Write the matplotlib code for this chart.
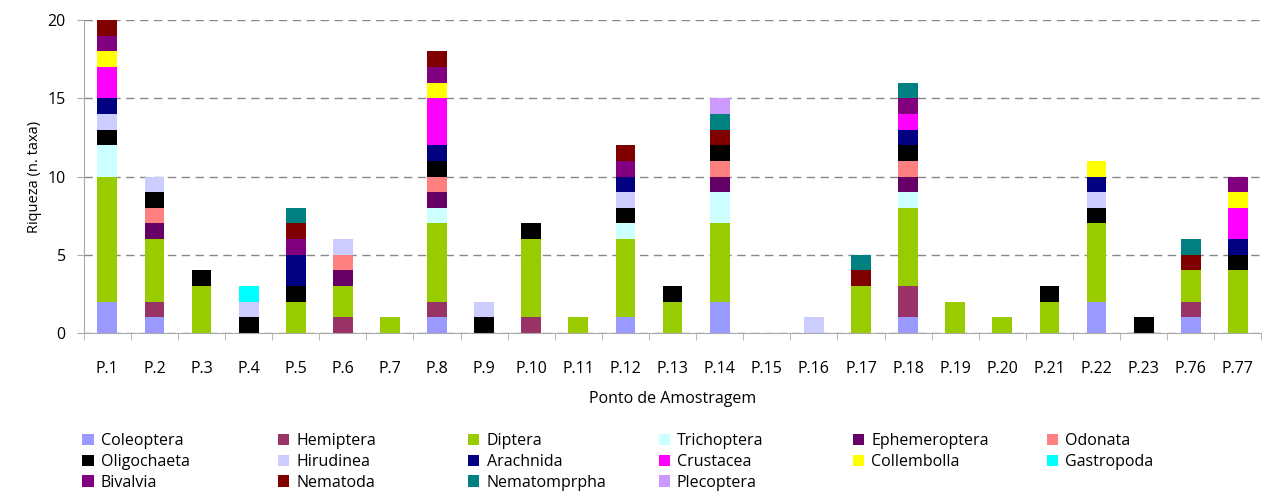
import matplotlib.pyplot as plt
import numpy as np

plt.rcParams['font.family'] = ['Open Sans', 'DejaVu Sans']

pontos = ["P.1", "P.2", "P.3", "P.4", "P.5", "P.6", "P.7", "P.8", "P.9", "P.10",
          "P.11", "P.12", "P.13", "P.14", "P.15", "P.16", "P.17", "P.18", "P.19",
          "P.20", "P.21", "P.22", "P.23", "P.76", "P.77"]

taxa = ["Coleoptera", "Hemiptera", "Diptera", "Trichoptera", "Ephemeroptera", "Odonata",
        "Oligochaeta", "Hirudinea", "Arachnida", "Crustacea", "Collembolla", "Gastropoda",
        "Bivalvia", "Nematoda", "Nematomprpha", "Plecoptera"]

cores = ["#9999FF", "#993366", "#99CC00", "#CCFFFF", "#660066", "#FF8080",
         "#000000", "#CCCCFF", "#000080", "#FF00FF", "#FFFF00", "#00FFFF",
         "#800080", "#800000", "#008080", "#CC99FF"]

#                 P1 P2 P3 P4 P5 P6 P7 P8 P9 P10 P11 P12 P13 P14 P15 P16 P17 P18 P19 P20 P21 P22 P23 P76 P77
coleoptera    = [2, 1, 0, 0, 0, 0, 0, 1, 0, 0, 0, 1, 0, 2, 0, 0, 0, 1, 0, 0, 0, 2, 0, 1, 0]
hemiptera     = [0, 1, 0, 0, 0, 1, 0, 1, 0, 1, 0, 0, 0, 0, 0, 0, 0, 2, 0, 0, 0, 0, 0, 1, 0]
diptera       = [8, 4, 3, 0, 2, 2, 1, 5, 0, 5, 1, 5, 2, 5, 0, 0, 3, 5, 2, 1, 2, 5, 0, 2, 4]
trichoptera   = [2, 0, 0, 0, 0, 0, 0, 1, 0, 0, 0, 1, 0, 2, 0, 0, 0, 1, 0, 0, 0, 0, 0, 0, 0]
ephemeroptera = [0, 1, 0, 0, 0, 1, 0, 1, 0, 0, 0, 0, 0, 1, 0, 0, 0, 1, 0, 0, 0, 0, 0, 0, 0]
odonata       = [0, 1, 0, 0, 0, 1, 0, 1, 0, 0, 0, 0, 0, 1, 0, 0, 0, 1, 0, 0, 0, 0, 0, 0, 0]
oligochaeta   = [1, 1, 1, 1, 1, 0, 0, 1, 1, 1, 0, 1, 1, 1, 0, 0, 0, 1, 0, 0, 1, 1, 1, 0, 1]
hirudinea     = [1, 1, 0, 1, 0, 1, 0, 0, 1, 0, 0, 1, 0, 0, 0, 1, 0, 0, 0, 0, 0, 1, 0, 0, 0]
arachnida     = [1, 0, 0, 0, 2, 0, 0, 1, 0, 0, 0, 1, 0, 0, 0, 0, 0, 1, 0, 0, 0, 1, 0, 0, 1]
crustacea     = [2, 0, 0, 0, 0, 0, 0, 3, 0, 0, 0, 0, 0, 0, 0, 0, 0, 1, 0, 0, 0, 0, 0, 0, 2]
collembolla   = [1, 0, 0, 0, 0, 0, 0, 1, 0, 0, 0, 0, 0, 0, 0, 0, 0, 0, 0, 0, 0, 1, 0, 0, 1]
gastropoda    = [0, 0, 0, 1, 0, 0, 0, 0, 0, 0, 0, 0, 0, 0, 0, 0, 0, 0, 0, 0, 0, 0, 0, 0, 0]
bivalvia      = [1, 0, 0, 0, 1, 0, 0, 1, 0, 0, 0, 1, 0, 0, 0, 0, 0, 1, 0, 0, 0, 0, 0, 0, 1]
nematoda      = [1, 0, 0, 0, 1, 0, 0, 1, 0, 0, 0, 1, 0, 1, 0, 0, 1, 0, 0, 0, 0, 0, 0, 1, 0]
nematomprpha  = [0, 0, 0, 0, 1, 0, 0, 0, 0, 0, 0, 0, 0, 1, 0, 0, 1, 1, 0, 0, 0, 0, 0, 1, 0]
plecoptera    = [0, 0, 0, 0, 0, 0, 0, 0, 0, 0, 0, 0, 0, 1, 0, 0, 0, 0, 0, 0, 0, 0, 0, 0, 0]

series = [coleoptera, hemiptera, diptera, trichoptera, ephemeroptera, odonata,
          oligochaeta, hirudinea, arachnida, crustacea, collembolla, gastropoda,
          bivalvia, nematoda, nematomprpha, plecoptera]

fig = plt.figure(figsize=(12.69, 4.91), dpi=100)
ax = fig.add_axes([0.066, 0.322, 0.928, 0.637])

x = np.arange(len(pontos))
bottom = np.zeros(len(pontos))
handles = []
for nome, vals, cor in zip(taxa, series, cores):
    vals = np.array(vals, dtype=float)
    h = ax.bar(x, vals, width=0.42, bottom=bottom, color=cor, label=nome, linewidth=0)
    handles.append(h)
    bottom += vals

ax.set_xlim(-0.5, len(pontos) - 0.5)
ax.set_ylim(0, 20)
ax.set_yticks([0, 5, 10, 15, 20])
ax.yaxis.grid(True, linestyle=(0, (6, 4)), color='#888888', linewidth=1.0)
ax.set_axisbelow(True)

ax.set_xticks(x)
ax.set_xticklabels(pontos, fontsize=11.5)
ax.set_xticks(np.arange(-0.5, len(pontos), 1.0), minor=True)
ax.tick_params(axis='x', which='major', length=0, pad=20)
ax.tick_params(axis='x', which='minor', length=5, color='#aaaaaa', direction='out')
ax.tick_params(axis='y', length=5, color='#aaaaaa', labelsize=11.5, direction='out', pad=8)

for s in ['top', 'right']:
    ax.spines[s].set_visible(False)
ax.spines['left'].set_color('#aaaaaa')
ax.spines['bottom'].set_color('#aaaaaa')

ax.set_ylabel("Riqueza (n. taxa)", fontsize=10.5)
ax.set_xlabel("Ponto de Amostragem", fontsize=11.5, labelpad=10)

# legend laid out in fixed-width columns, filled row by row
ncol = 6
col_x = [0.065, 0.219, 0.369, 0.519, 0.672, 0.825]
for c in range(ncol):
    idx = [r * ncol + c for r in range(3) if r * ncol + c < len(handles)]
    fig.legend([handles[i] for i in idx], [taxa[i] for i in idx],
               loc='upper left', bbox_to_anchor=(col_x[c], 0.118), ncol=1,
               frameon=False, fontsize=11.5, handlelength=0.7, handleheight=0.7,
               handletextpad=0.45, labelspacing=0.3, borderaxespad=0, borderpad=0)

fig.savefig("out.png", dpi=100)
